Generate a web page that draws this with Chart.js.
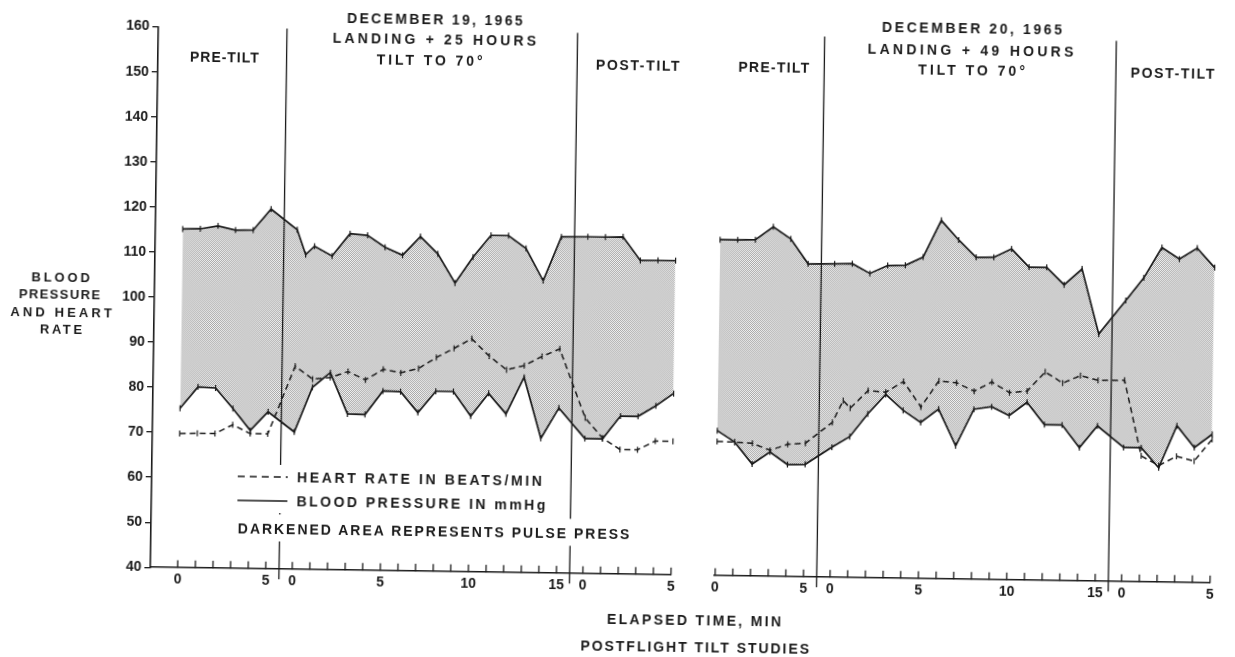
<!DOCTYPE html>
<html>
<head>
<meta charset="utf-8">
<title>Postflight Tilt Studies</title>
<script src="https://cdn.jsdelivr.net/npm/chart.js@4.4.1/dist/chart.umd.min.js"></script>
<style>
    html, body { margin: 0; padding: 0; background: #fff; overflow: hidden; }
    /* the scanned figure sits a little crooked on the page */
    #figure {
        position: relative;
        width: 1235px;
        height: 657px;
        transform: rotate(0.85deg);
        transform-origin: 617.5px 328.5px;
        font-family: 'Liberation Sans', Arial, sans-serif;
        font-weight: bold;
        color: #1a1a1a;
    }
    canvas { position: absolute; top: 0; }
    #chart-dec19 { left: 0; }
    #chart-dec20 { left: 700px; }
    .lbl {
        position: absolute;
        white-space: nowrap;
        line-height: 1;
        font-size: 14px;
        transform: translate(-50%, -50%);
    }
    .lbl.small { font-size: 13px; }
    .row {
        position: absolute;
        display: flex;
        align-items: center;
        background: #fff;
        white-space: nowrap;
        line-height: 1;
        font-size: 14px;
        padding: 5px 4px 5px 0;
        transform: translate(0, -50%);
    }
    .row span { display: inline-block; }
</style>
</head>
<body>
<div id="figure">
    <canvas id="chart-dec19" width="700" height="657"></canvas>
    <canvas id="chart-dec20" width="535" height="657"></canvas>

    <div class="lbl c" data-w="176" style="left:430.3px; top:21.7px;">DECEMBER 19, 1965</div>
    <div class="lbl c" data-w="203.6" style="left:430.2px; top:41.7px;">LANDING + 25 HOURS</div>
    <div class="lbl c" data-w="106" style="left:425.7px; top:62.8px;">TILT TO 70°</div>
    <div class="lbl c" data-w="68.8" style="left:220.4px; top:63.3px;">PRE-TILT</div>
    <div class="lbl c" data-w="84.2" style="left:633.8px; top:64.7px;">POST-TILT</div>

    <div class="lbl c" data-w="180.5" style="left:967.5px; top:23px;">DECEMBER 20, 1965</div>
    <div class="lbl c" data-w="206" style="left:966.5px; top:44.8px;">LANDING + 49 HOURS</div>
    <div class="lbl c" data-w="107" style="left:967.7px; top:64.7px;">TILT TO 70°</div>
    <div class="lbl c" data-w="70.8" style="left:769.9px; top:65.2px;">PRE-TILT</div>
    <div class="lbl c" data-w="84.2" style="left:1168.6px; top:65.1px;">POST-TILT</div>

    <div class="lbl small c" data-w="58.3" style="left:60px; top:285px;">BLOOD</div>
    <div class="lbl small c" data-w="81.7" style="left:59px; top:302.3px;">PRESSURE</div>
    <div class="lbl small c" data-w="101.7" style="left:61px; top:319.6px;">AND HEART</div>
    <div class="lbl small c" data-w="41.7" style="left:61px; top:337px;">RATE</div>

    <div class="row" style="left:236px; top:482px;">
        <svg width="54" height="8"><line x1="4" y1="4" x2="54" y2="4" stroke="#1a1a1a" stroke-width="1.6" stroke-dasharray="7 5"/></svg>
        <span data-w="245" style="margin-left:9.2px;">HEART RATE IN BEATS/MIN</span>
    </div>
    <div class="row" style="left:236px; top:506px;">
        <svg width="54" height="8"><line x1="4" y1="4" x2="54" y2="4" stroke="#1a1a1a" stroke-width="1.6"/></svg>
        <span data-w="249" style="margin-left:9.2px;">BLOOD PRESSURE IN mmHg</span>
    </div>
    <div class="row" style="left:236px; top:533px; padding-top:6.5px; padding-bottom:6.5px; padding-left:4.8px;">
        <span data-w="392">DARKENED AREA REPRESENTS PULSE PRESS</span>
    </div>

    <div class="lbl c" data-w="174" style="left:698.3px; top:618.9px;">ELAPSED TIME, MIN</div>
    <div class="lbl c" data-w="229" style="left:699.5px; top:645.9px;">POSTFLIGHT TILT STUDIES</div>
</div>

<script>
// Postflight tilt studies - two panels, blood pressure band + heart rate

const FONT = "'Liberation Sans', Arial, sans-serif";
const INK = '#1a1a1a';

// elapsed minutes within each phase
const preMinutes = [0, 1, 2, 3, 4, 5];
const tiltMinutes = [0, 1, 2, 3, 4, 5, 6, 7, 8, 9, 10, 11, 12, 13, 14, 15];
const tiltMinutesDec19Sys = [0, 0.5, 1, 2, 3, 4, 5, 6, 7, 8, 9, 10, 11, 12, 13, 14, 15];
const tiltMinutesDec20Hr = [0, 0.6, 1, 2, 3, 4, 5, 6, 7, 8, 9, 10, 11, 12, 13, 14, 15];
const postMinutes = [0, 1, 2, 3, 4, 5];

// where each phase starts on the shared time axis
const PHASE_START = { pre: 0, tilt: 6.5, post: 23 };
const dividerSlots = [5.75, 22.25];

// labelled minutes on the time axis
const labelMinutesPre = [0, 5];
const labelMinutesTilt = [0, 5, 10, 15];
const labelMinutesPost = [0, 5];

const Y_MIN = 40;
const Y_MAX = 160;
const Y_STEP = 10;

// December 19, 1965 - landing + 25 hours
const dec19SysPre = [115.2, 115.3, 116.0, 115.1, 115.2, 119.9];
const dec19SysTilt = [115.4, 109.9, 111.8, 109.7, 114.7, 114.4, 111.8, 110.1, 114.3, 110.5, 104.1, 109.9, 114.8, 114.8, 112.0, 104.9, 114.7];
const dec19SysPost = [114.8, 114.8, 114.9, 109.7, 109.8, 109.8];

const dec19DiaPre = [75.4, 80.2, 80.0, 75.5, 70.7, 74.9];
const dec19DiaTilt = [70.5, 80.5, 83.8, 74.7, 74.6, 79.9, 79.8, 75.2, 80.0, 80.0, 74.6, 79.7, 75.2, 83.4, 69.9, 76.7];
const dec19DiaPost = [70.0, 70.0, 75.1, 75.1, 77.5, 80.3];

const dec19HrPre = [69.8, 69.9, 69.9, 71.9, 70.0, 70.0];
const dec19HrTilt = [85.1, 82.3, 82.7, 84.1, 82.3, 84.7, 84.0, 85.0, 87.5, 89.6, 91.8, 88.0, 85.0, 86.0, 88.1, 89.8];
const dec19HrPost = [74.6, 70.2, 67.7, 67.7, 69.7, 69.7];

// December 20, 1965 - landing + 49 hours
const dec20SysPre = [114.6, 114.6, 114.7, 117.6, 115.0, 109.5];
const dec20SysTilt = [109.6, 109.7, 107.6, 109.4, 109.5, 111.4, 119.6, 115.3, 111.5, 111.6, 113.5, 109.5, 109.5, 105.7, 109.3, 94.9];
const dec20SysPost = [102.4, 107.5, 114.3, 111.8, 114.3, 110.0];

const dec20DiaPre = [72.2, 69.7, 64.9, 67.6, 64.9, 65.0];
const dec20DiaTilt = [68.9, 71.3, 76.4, 80.8, 77.3, 74.7, 77.7, 69.6, 77.8, 78.4, 76.5, 79.5, 74.6, 74.6, 69.6, 74.5];
const dec20DiaPost = [69.8, 69.8, 65.4, 74.8, 70.0, 73.0];

const dec20HrPre = [69.8, 69.7, 69.5, 68.0, 69.4, 69.7];
const dec20HrTilt = [74.4, 79.3, 77.6, 81.6, 81.3, 83.7, 78.1, 84.0, 83.6, 81.8, 83.9, 81.6, 82.0, 86.3, 83.9, 85.6, 84.6];
const dec20HrPost = [84.7, 68.0, 65.9, 68.0, 67.0, 71.9];

function toPoints(pre, tilt, post, tiltTimes) {
    const times = tiltTimes || tiltMinutes;
    return [
        ...pre.map((v, i) => ({ x: PHASE_START.pre + preMinutes[i], y: v })),
        ...tilt.map((v, i) => ({ x: PHASE_START.tilt + times[i], y: v })),
        ...post.map((v, i) => ({ x: PHASE_START.post + postMinutes[i], y: v }))
    ];
}

const minuteSlots = [
    ...preMinutes.map(m => PHASE_START.pre + m),
    ...tiltMinutes.map(m => PHASE_START.tilt + m),
    ...postMinutes.map(m => PHASE_START.post + m)
];

const axisLabels = [
    ...labelMinutesPre.map(m => ({ value: PHASE_START.pre + m, text: String(m) })),
    ...labelMinutesTilt.map(m => ({ value: PHASE_START.tilt + m, text: String(m) })),
    ...labelMinutesPost.map(m => ({ value: PHASE_START.post + m, text: String(m) }))
];

// stretch the lettering to the widths of the original hand lettering
function fitWidths() {
    document.querySelectorAll('[data-w]').forEach(el => {
        const target = parseFloat(el.dataset.w);
        const n = [...el.textContent].length;
        const natural = el.offsetWidth;
        const ls = (target - natural) / Math.max(n - 1, 1);
        el.style.letterSpacing = ls + 'px';
        if (el.classList.contains('c')) el.style.paddingLeft = ls + 'px';
    });
}

function makeStipple() {
    const c = document.createElement('canvas');
    c.width = 2;
    c.height = 2;
    const g = c.getContext('2d');
    g.fillStyle = '#f4f4f4';
    g.fillRect(0, 0, 2, 2);
    g.fillStyle = '#a6a6a6';
    g.fillRect(0, 0, 1, 1);
    g.fillRect(1, 1, 1, 1);
    return g.createPattern(c, 'repeat');
}

// minute ticks pointing up from the time axis, and the phase dividers
const phaseMarks = {
    id: 'phaseMarks',
    afterDatasetsDraw(chart) {
        const { ctx, chartArea, scales } = chart;
        const x = scales.x;
        const y = scales.y;
        ctx.save();
        ctx.strokeStyle = INK;
        ctx.lineWidth = 1.3;
        ctx.beginPath();
        minuteSlots.forEach(u => {
            const px = x.getPixelForValue(u);
            ctx.moveTo(px, chartArea.bottom);
            ctx.lineTo(px, chartArea.bottom - 7.5);
        });
        ctx.stroke();

        ctx.lineWidth = 1.3;
        ctx.beginPath();
        dividerSlots.forEach(u => {
            const px = x.getPixelForValue(u);
            ctx.moveTo(px, y.getPixelForValue(Y_MAX));
            ctx.lineTo(px, chartArea.bottom + 10);
        });
        ctx.stroke();
        ctx.restore();
    }
};

const markerStyle = {
    showLine: true,
    tension: 0,
    clip: false,
    pointStyle: 'line',
    pointRotation: 90,
    pointRadius: 3,
    pointHoverRadius: 3,
    pointBorderWidth: 1.2,
    pointBorderColor: INK,
    pointBackgroundColor: INK
};

// lower order is painted later, so the heart rate sits on top of the band
function panelDatasets(sys, dia, hr, pattern) {
    return [
        { label: 'Systolic', data: sys, order: 2, borderColor: INK, borderWidth: 1.7, backgroundColor: pattern, fill: '+1', ...markerStyle },
        { label: 'Diastolic', data: dia, order: 1, borderColor: INK, borderWidth: 1.7, fill: false, ...markerStyle },
        { label: 'Heart rate', data: hr, order: 0, borderColor: INK, borderWidth: 1.5, borderDash: [6, 4], fill: false, ...markerStyle }
    ];
}

function timeAxis(min) {
    return {
        type: 'linear',
        min: min,
        max: 28,
        grid: { display: false, drawTicks: false },
        border: { display: true, color: INK, width: 1.6 },
        ticks: {
            autoSkip: false,
            maxRotation: 0,
            padding: 4,
            color: INK,
            font: { family: FONT, size: 14, weight: 'bold' },
            callback: (value, index) => axisLabels[index] ? axisLabels[index].text : ''
        },
        afterBuildTicks: scale => {
            scale.ticks = axisLabels.map(t => ({ value: t.value }));
        },
        afterFit: scale => {
            scale.height = 657 - 574.2;
        }
    };
}

function makePanel(canvasId, datasets, showY, padding, xMin) {
    const ctx = document.getElementById(canvasId).getContext('2d');
    return new Chart(ctx, {
        type: 'scatter',
        data: { datasets: datasets },
        options: {
            responsive: false,
            animation: false,
            devicePixelRatio: 1,
            events: [],
            layout: { padding: padding },
            plugins: {
                legend: { display: false },
                tooltip: { enabled: false },
                filler: { drawTime: 'beforeDatasetsDraw' }
            },
            scales: {
                x: timeAxis(xMin),
                y: {
                    display: showY,
                    min: Y_MIN,
                    max: Y_MAX,
                    grid: { drawOnChartArea: false, drawTicks: true, tickLength: 6, color: INK, lineWidth: 1.3 },
                    border: { display: true, color: INK, width: 1.6 },
                    ticks: {
                        stepSize: Y_STEP,
                        padding: 3,
                        color: INK,
                        font: { family: FONT, size: 14, weight: 'bold' }
                    },
                    afterFit: scale => {
                        if (showY) scale.width = 154;
                    }
                }
            }
        },
        plugins: [phaseMarks]
    });
}

fitWidths();

const stipple = makeStipple();

makePanel('chart-dec19', panelDatasets(
    toPoints(dec19SysPre, dec19SysTilt, dec19SysPost, tiltMinutesDec19Sys),
    toPoints(dec19DiaPre, dec19DiaTilt, dec19DiaPost),
    toPoints(dec19HrPre, dec19HrTilt, dec19HrPost),
    stipple
), true, { left: 0, right: 25.4, top: 33.6, bottom: 0 }, -1.55);

makePanel('chart-dec20', panelDatasets(
    toPoints(dec20SysPre, dec20SysTilt, dec20SysPost),
    toPoints(dec20DiaPre, dec20DiaTilt, dec20DiaPost),
    toPoints(dec20HrPre, dec20HrTilt, dec20HrPost, tiltMinutesDec20Hr),
    stipple
), false, { left: 17.7, right: 21.3, top: 33.6, bottom: 0 }, -0.06);
</script>
</body>
</html>
